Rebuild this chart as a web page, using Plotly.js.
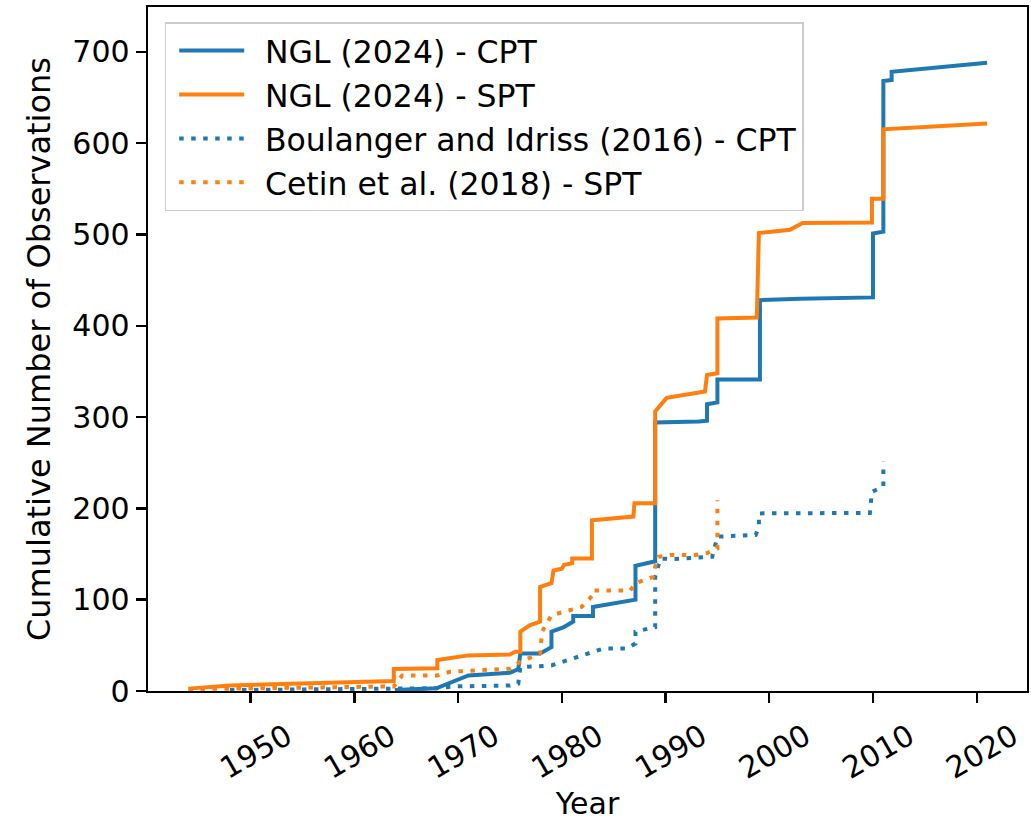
<!DOCTYPE html>
<html>
<head>
<meta charset="utf-8">
<script src="https://cdn.plot.ly/plotly-3.0.1.min.js"></script>
<style>
html,body{margin:0;padding:0;background:#fff;}
#chart{width:1031px;height:822px;}
</style>
</head>
<body>
<div id="chart"></div>
<script>
// NGL (2024) - CPT
const nglCptYear = [1963.9,1967.9,1971.0,1975.0,1975.8,1976.0,1977.9,1979.0,1979.0,1980.2,1981.1,1981.1,1983.0,1983.0,1987.1,1987.1,1989.0,1989.0,1993.2,1994.0,1994.0,1995.0,1995.0,1999.1,1999.1,2003.0,2010.0,2010.0,2011.0,2011.0,2011.8,2011.8,2021.0];
const nglCptCount = [1,3,17,20,24,41,41,48,65,70,76,82,82,92,100,137,142,294,295,296,314,316,341,341,428,429.5,431,501,503,668,669,678,688];
// NGL (2024) - SPT
const nglSptYear = [1944.0,1948.0,1963.8,1963.8,1968.0,1968.0,1971.0,1975.0,1975.5,1976.0,1976.0,1976.9,1977.9,1977.9,1979.0,1979.2,1980.0,1980.2,1981.0,1981.0,1982.9,1982.9,1986.9,1987.0,1989.0,1989.0,1990.1,1993.8,1994.0,1995.0,1995.0,1998.8,1999.0,2002.0,2003.2,2009.9,2009.9,2011.0,2011.0,2021.0];
const nglSptCount = [2.6,6,11,24,25,34,39,40,43,43,65,72,76,114,118,132,134,138,140,145,145,187,191,205.5,205.5,306,321,328,346,348,408,409,501.5,505,512.5,513,539,539,615,621.5];
// Boulanger and Idriss (2016) - CPT
const biCptYear = [1948.0,1968.0,1969.5,1975.0,1975.8,1976.0,1979.0,1981.8,1984.0,1986.3,1987.1,1987.1,1989.0,1989.0,1989.5,1990.8,1994.5,1995.0,1998.7,1999.0,1999.0,2009.7,2009.9,2011.0,2011.0];
const biCptCount = [1,3,5,6,8,26,28,39,46.5,46.5,52,65,70,125,145,144.5,147,169,171,180,194.5,195,218,224,251];
// Cetin et al. (2018) - SPT
const cetinSptYear = [1944.0,1963.8,1964.6,1968.0,1969.2,1975.0,1976.0,1977.9,1978.1,1979.0,1981.9,1983.0,1983.0,1986.6,1987.1,1988.8,1989.0,1989.3,1990.5,1992.9,1994.0,1995.0,1995.0];
const cetinSptCount = [2,5,17,17,21,24.5,32,41,65,83,92,105,110,110,118,125,136,147,149,149,151,156,209];

const seriesNames = ["NGL (2024) - CPT","NGL (2024) - SPT","Boulanger and Idriss (2016) - CPT","Cetin et al. (2018) - SPT"];
const xTickVals = [1950,1960,1970,1980,1990,2000,2010,2020];
const yTickVals = [0,100,200,300,400,500,600,700];

const blue = "#1f77b4", orange = "#ff7f0e";
const dotted = "4.5px,7.5px";

function tr(x, y, name, color, dash, grp){
  return {x:x, y:y, name:"\u2002" + name, type:"scatter", mode:"lines", legendgroup:grp,
    line:{color:color, width:4, dash:dash}, hoverinfo:"skip"};
}
const data = [
  tr(nglCptYear, nglCptCount, seriesNames[0], blue, "solid", "a"),
  tr(nglSptYear, nglSptCount, seriesNames[1], orange, "solid", "b"),
  tr(biCptYear, biCptCount, seriesNames[2], blue, dotted, "c"),
  tr(cetinSptYear, cetinSptCount, seriesNames[3], orange, dotted, "d")
];

const font = {family:"DejaVu Sans, sans-serif", color:"#000"};
const layout = {
  width:1031, height:822,
  margin:{l:148, r:4, t:7, b:131},
  paper_bgcolor:"#fff", plot_bgcolor:"#fff",
  font:Object.assign({size:30}, font),
  showlegend:true,
  legend:{x:0.019, y:0.978, xanchor:"left", yanchor:"top",
    bgcolor:"rgba(255,255,255,0.8)", bordercolor:"#cccccc", borderwidth:1.5,
    font:Object.assign({size:31.5}, font), tracegroupgap:8, traceorder:"normal",
    itemwidth:65, indentation:8},
  xaxis:{range:[1940.1,2024.85], tickvals:xTickVals, ticktext:xTickVals.map(String),
    tickangle:-30, ticks:"outside", ticklen:10, tickwidth:2.4, tickcolor:"#000",
    showline:true, linecolor:"#000", linewidth:2.4, mirror:true,
    showgrid:false, zeroline:false, ticklabelshift:36, ticklabelstandoff:4,
    tickfont:Object.assign({size:30}, font),
    title:{text:"Year", font:Object.assign({size:30}, font), standoff:4}},
  yaxis:{range:[0,749], tickvals:yTickVals, ticktext:yTickVals.map(String),
    ticks:"outside", ticklen:10, tickwidth:2.4, tickcolor:"#000",
    showline:true, linecolor:"#000", linewidth:2.4, mirror:true,
    showgrid:false, zeroline:false,
    tickfont:Object.assign({size:30}, font),
    title:{text:"Cumulative Number of Observations", font:Object.assign({size:32}, font), standoff:12}}
};
Plotly.newPlot("chart", data, layout, {staticPlot:true, displayModeBar:false});
</script>
</body>
</html>
